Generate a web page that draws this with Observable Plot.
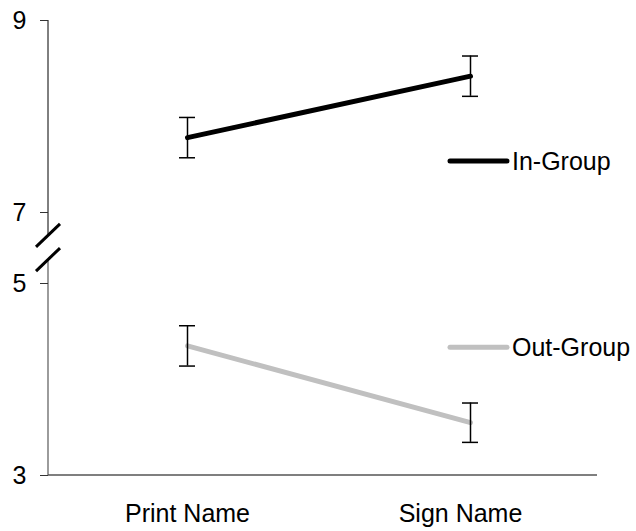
<!DOCTYPE html>
<html>
<head>
<meta charset="utf-8">
<script src="https://cdn.jsdelivr.net/npm/d3@7"></script>
<script src="https://cdn.jsdelivr.net/npm/@observablehq/plot@0.6"></script>
<style>
  html, body { margin: 0; padding: 0; background: #fff; }
</style>
</head>
<body>
<div id="chart"></div>
<script>
// ---- data ----
const conditions = ["Print Name", "Sign Name"];
const groups = ["In-Group", "Out-Group"];
const inGroupMeans = [7.78, 8.42];
const inGroupErr = [0.21, 0.21];
const outGroupMeans = [4.35, 3.55];
const outGroupErr = [0.21, 0.205];
const groupColors = ["#000000", "#c0c0c0"];
const yTicks = [3, 5, 7, 9];
const legendAt = [7.53, 4.33];

const rows = [];
conditions.forEach((c, i) => {
  rows.push({condition: c, group: groups[0], mean: inGroupMeans[i], err: inGroupErr[i]});
  rows.push({condition: c, group: groups[1], mean: outGroupMeans[i], err: outGroupErr[i]});
});

const W = 636, H = 531;
const mL = 48, mR = 39, mT = 20, mB = 56;
const yBottom = H - mB;          // value 3
const unit = (yBottom - mT - 71) / 4; // px per unit (gap of 71px for the break)
const capW = 16;
const fs = 25;

// axis lines with break marks (decoration rendered through the y scale)
function axisWithBreak(index, scales, values, dims) {
  const y = scales.y;
  const g = d3.create("svg:g");
  const x0 = dims.marginLeft;
  const xr = dims.width - dims.marginRight;
  const yTop = y(9), y7 = y(7), y5 = y(5), y3 = y(3);
  const mid1 = y7 + (y5 - y7) * 0.33;
  const mid2 = y7 + (y5 - y7) * 0.67;
  g.append("line").attr("x1", x0).attr("x2", x0).attr("y1", yTop).attr("y2", mid1)
    .attr("stroke", "#000").attr("stroke-width", 1);
  g.append("line").attr("x1", x0).attr("x2", x0).attr("y1", mid2).attr("y2", y3)
    .attr("stroke", "#666").attr("stroke-width", 1.3);
  g.append("line").attr("x1", x0).attr("x2", xr).attr("y1", y3).attr("y2", y3)
    .attr("stroke", "#555").attr("stroke-width", 1.3);
  for (const m of [mid1, mid2]) {
    g.append("line")
      .attr("x1", x0 - 12).attr("y1", m + 11.5)
      .attr("x2", x0 + 12).attr("y2", m - 11.5)
      .attr("stroke", "#000").attr("stroke-width", 3);
  }
  return g.node();
}

function legend(index, scales, values, dims) {
  const y = scales.y;
  const g = d3.create("svg:g");
  const lx = dims.width - 186;
  groups.forEach((name, i) => {
    const yy = y(legendAt[i]);
    g.append("line").attr("x1", lx).attr("x2", lx + 57).attr("y1", yy).attr("y2", yy)
      .attr("stroke", groupColors[i]).attr("stroke-width", 5).attr("stroke-linecap", "round");
    g.append("text").attr("x", lx + 62).attr("y", yy).attr("dy", "0.35em")
      .attr("text-anchor", "start")
      .attr("font-size", fs).attr("fill", "#000").text(name);
  });
  return g.node();
}

const chart = Plot.plot({
  width: W,
  height: H,
  marginLeft: mL,
  marginRight: mR,
  marginTop: mT,
  marginBottom: mB,
  style: {fontFamily: "'Liberation Sans', Arial, sans-serif", background: "#fff", color: "#000"},
  x: {type: "band", domain: conditions, range: [187 - capW / 2, 470 + capW / 2],
      paddingInner: 1 - capW / (470 - 187), paddingOuter: 0},
  y: {type: "linear", domain: [3, 5, 7, 9], range: [yBottom, yBottom - 2 * unit, mT + 2 * unit, mT]},
  color: {domain: groups, range: groupColors},
  marks: [
    axisWithBreak,
    Plot.axisY({ticks: yTicks, tickFormat: d3.format("d"), tickSize: 8, tickPadding: 14, fontSize: fs, stroke: "#333", label: null}),
    Plot.axisX({ticks: [conditions[0]], tickSize: 0, tickPadding: 29, fontSize: fs, label: null}),
    Plot.axisX({ticks: [conditions[1]], tickSize: 0, tickPadding: 29, fontSize: fs, label: null, dx: -10}),
    Plot.line(rows, {x: "condition", y: "mean", z: "group", stroke: "group", strokeWidth: 5, strokeLinecap: "round"}),
    Plot.ruleX(rows, {x: "condition", y1: d => d.mean - d.err, y2: d => d.mean + d.err, stroke: "#000", strokeWidth: 1.5}),
    Plot.tickY(rows, {x: "condition", y: d => d.mean + d.err, stroke: "#000", strokeWidth: 1.5}),
    Plot.tickY(rows, {x: "condition", y: d => d.mean - d.err, stroke: "#000", strokeWidth: 1.5}),
    legend
  ]
});
document.getElementById("chart").appendChild(chart);
</script>
</body>
</html>
